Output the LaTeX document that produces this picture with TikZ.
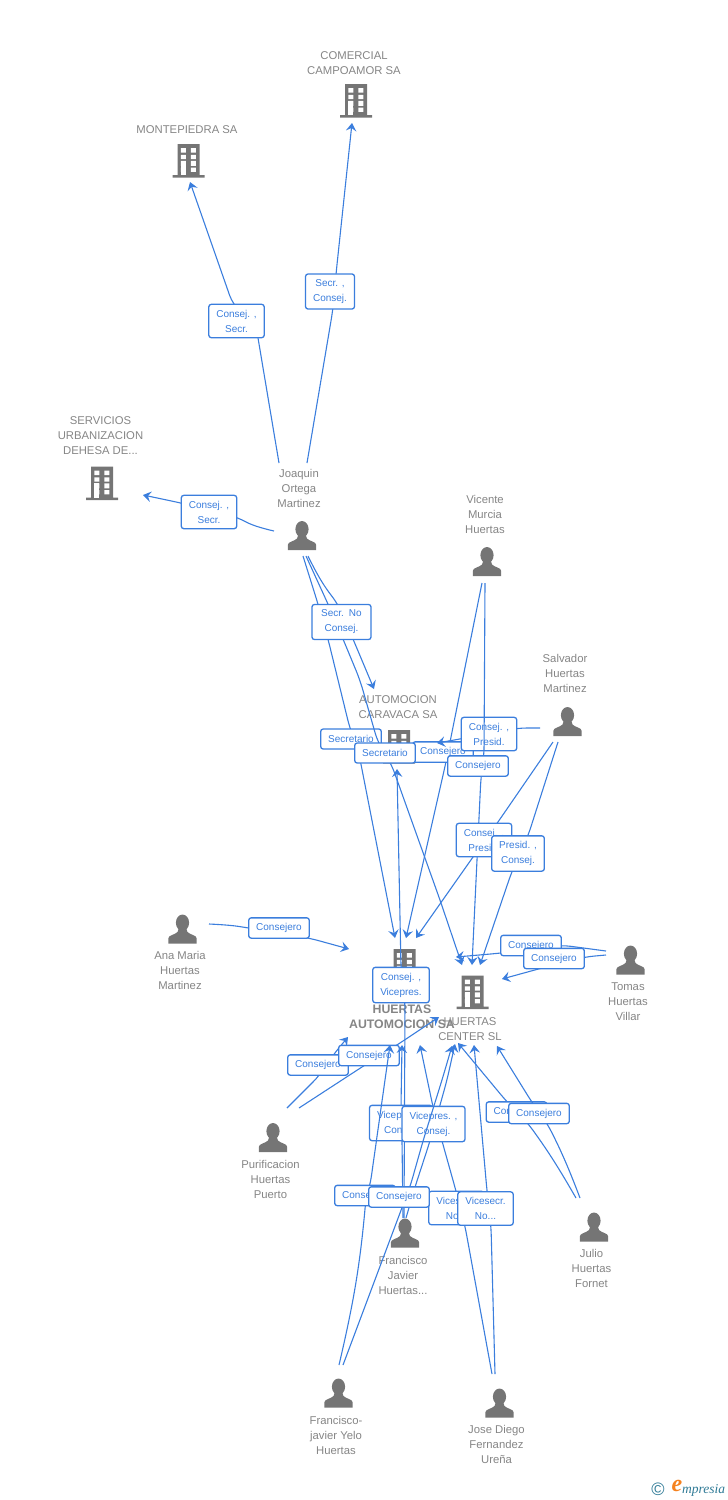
\documentclass[tikz,border=0pt]{standalone}
\usepackage{fontspec}
\setmainfont{Liberation Sans}
\newfontfamily\logofont{Liberation Serif}
\usetikzlibrary{arrows.meta}
\definecolor{linkblue}{HTML}{3B7EDD}
\definecolor{icongrey}{HTML}{757575}
\definecolor{labelgrey}{HTML}{858585}
\definecolor{mainorange}{HTML}{FF5B2E}
\definecolor{logoteal}{HTML}{2F7A96}
\definecolor{logoorange}{HTML}{F5821F}
\tikzset{
  rel/.style={draw=linkblue,line width=1.1pt,rounded corners=10pt,-{Stealth[length=8pt,width=10.5pt,inset=3pt]}},
  role/.style={draw=linkblue,line width=1.3pt,fill=white,rounded corners=2.5pt,text=linkblue,align=center,
    font=\fontsize{10}{15}\selectfont,inner xsep=7.5pt,inner ysep=5.5pt,minimum height=20pt},
  who/.style={text=labelgrey,align=center,font=\fontsize{11.3}{15}\selectfont,inner sep=0pt},
  mainwho/.style={who,font=\fontsize{12.3}{15}\selectfont\bfseries},
  building/.pic={
    \fill[pic actions] (-11,-16.5) rectangle (11,15) (-16,14.7) rectangle (16,17.2);
    \foreach \wy/\hy in {-12.3/4.3,-5.7/4.4,0.3/5,7/4.3}{
      \fill[white] (-7.7,\wy) rectangle ++(5,\hy) (2.3,\wy) rectangle ++(5,\hy);}
    \fill[white] (-7.7,0.3) rectangle ++(5,14.4);
  },
  person/.pic={
    \fill[pic actions] (0,-6.3) ellipse (6.6 and 8.2);
    \fill[pic actions] (-14.2,14.5) -- (-14.2,9.5) .. controls (-14,6) and (-8,6) .. (-5,3) -- (-4,0) -- (4,0) -- (5,3)
      .. controls (8,6) and (14,6) .. (14.2,9.5) -- (14.2,14.5) -- cycle;
  },
  every pic/.style={fill=icongrey}
}
\begin{document}
\begin{tikzpicture}[x=1pt,y=-1pt]
\useasboundingbox (0,0) rectangle (728,1500);
\pic at (356,100.5) {building};
\pic at (188.5,160.5) {building};
\pic at (102,483) {building};
\pic at (399,746.5) {building};
\pic[fill=mainorange] at (404.5,965.5) {building};
\pic at (472.5,992) {building};
\pic at (302,535.5) {person};
\pic at (487,561.5) {person};
\pic at (567.5,721.5) {person};
\pic at (182.5,929) {person};
\pic at (630.5,960) {person};
\pic at (273,1137.5) {person};
\pic at (405,1233) {person};
\pic at (594,1227) {person};
\pic at (338.5,1393) {person};
\pic at (499.5,1403) {person};
\node[who] (comercial) at (354,63) {COMERCIAL\\CAMPOAMOR SA};
\node[who] (montepiedra) at (187,129.5) {MONTEPIEDRA SA};
\node[who] (servicios) at (100.5,436) {SERVICIOS\\URBANIZACION\\DEHESA DE...};
\node[who] (caravaca) at (398,707.5) {AUTOMOCION\\CARAVACA SA};
\node[mainwho] (automocion) at (402,1016.5) {HUERTAS\\AUTOMOCION SA};
\node[who] (center) at (470,1029.5) {HUERTAS\\CENTER SL};
\node[who] (joaquin) at (299,488) {Joaquin\\Ortega\\Martinez};
\node[who] (vicente) at (485,514) {Vicente\\Murcia\\Huertas};
\node[who] (salvador) at (565,673.5) {Salvador\\Huertas\\Martinez};
\node[who] (ana) at (180,970.5) {Ana Maria\\Huertas\\Martinez};
\node[who] (tomas) at (628,1001.5) {Tomas\\Huertas\\Villar};
\node[who] (purificacion) at (270.5,1179.5) {Purificacion\\Huertas\\Puerto};
\node[who] (javier) at (403,1275) {Francisco\\Javier\\Huertas...};
\node[who] (julio) at (591.5,1268.5) {Julio\\Huertas\\Fornet};
\node[who] (yelo) at (336,1435) {Francisco-\\javier Yelo\\Huertas};
\node[who] (jose) at (496.5,1444.5) {Jose Diego\\Fernandez\\Ureña};
\node[inner sep=0pt,text=logoteal,font=\fontsize{18}{18}\selectfont] (logoc) at (658,1489) {©};
\node[inner sep=0pt,text=logoorange,font=\logofont\itshape\bfseries\fontsize{24}{24}\selectfont] (logoe) at (677,1486) {e};
\node[inner sep=0pt,text=logoteal,font=\logofont\itshape\fontsize{13.5}{13.5}\selectfont,anchor=west] (logot) at (682,1490) {mpresia};
\coordinate (joaqA) at (279,463);
\coordinate (joaqB) at (307,463);
\coordinate (joaqC) at (274,531);
\coordinate (joaqD) at (303,556);
\coordinate (joaqE) at (306,556);
\coordinate (joaqF) at (308,556);
\coordinate (vicA) at (482,583);
\coordinate (vicB) at (485,583);
\coordinate (salA) at (540,728);
\coordinate (salB) at (553,742);
\coordinate (salC) at (558,742);
\coordinate (anaA) at (209,924);
\coordinate (tomA) at (606,951);
\coordinate (tomB) at (606,955);
\coordinate (purA) at (287,1108);
\coordinate (purB) at (299,1108);
\coordinate (javA) at (403,1218);
\coordinate (javB) at (406,1218);
\coordinate (javC) at (404,1218);
\coordinate (julA) at (576,1198);
\coordinate (julB) at (580,1198);
\coordinate (yelA) at (339,1365);
\coordinate (yelB) at (343,1365);
\coordinate (josA) at (492,1374);
\coordinate (josB) at (495,1374);
\coordinate (tipComercial) at (352,123);
\coordinate (tipMonte) at (190,182);
\coordinate (tipServicios) at (143,495);
\coordinate (tipCaravacaA) at (374,689);
\coordinate (tipCaravacaB) at (437,743);
\coordinate (tipCaravacaC) at (397,769);
\coordinate (tipAutoA) at (395,938);
\coordinate (tipAutoB) at (406,938);
\coordinate (tipAutoC) at (416,938);
\coordinate (tipAutoD) at (349,949);
\coordinate (tipAutoE) at (348,1037);
\coordinate (tipAutoF) at (390,1045);
\coordinate (tipAutoG) at (402,1045);
\coordinate (tipAutoH) at (420,1045);
\coordinate (tipCenterA) at (462,965);
\coordinate (tipCenterB) at (472,965);
\coordinate (tipCenterC) at (480,965);
\coordinate (tipCenterD) at (456,957);
\coordinate (tipCenterE) at (502,979);
\coordinate (tipCenterF) at (439,1017);
\coordinate (tipCenterG) at (452,1046);
\coordinate (tipCenterH) at (455,1044);
\coordinate (tipCenterI) at (458,1043);
\coordinate (tipCenterJ) at (474,1045);
\coordinate (tipCenterK) at (497,1046);
\draw[rel] (joaqA) -- (256,326) -- (233,305) -- (tipMonte);
\node[role] (consejMonte) at (236.5,321) {Consej. ,\\Secr.};
\draw[rel] (joaqB) -- (333,309) -- (336,274) -- (tipComercial);
\node[role] (secrComercial) at (330,291.5) {Secr. ,\\Consej.};
\draw[rel] (joaqC) to[bend left=8] (237,517) -- (181,503) -- (tipServicios);
\node[role] (consejServicios) at (209,512) {Consej. ,\\Secr.};
\draw[rel] (joaqD) -- (318,604) -- (328,639) -- (350,729) -- (358,749) -- (tipAutoA);
\node[role] (secrAuto) at (351,739) {Secretario};
\draw[rel] (vicA) -- (450,742) -- (446,762) -- (tipAutoB);
\node[role] (consejeroAuto) at (443,752) {Consejero};
\draw[rel] (salA) -- (517,728) -- (460,739) -- (tipCaravacaB);
\node[role] (consejCaravaca) at (489,734) {Consej. ,\\Presid.};
\draw[rel] (vicB) -- (484,756) -- (481,776) -- (tipCenterB);
\node[role] (consejeroCenter) at (478,766) {Consejero};
\draw[rel] (joaqE) -- (328,604) -- (343,639) -- (360,680) -- (378,743) -- (391,763) -- (440,900) -- (tipCenterA);
\node[role] (secrCenter) at (385,753) {Secretario};
\draw[rel] (joaqF) to[bend right=6] (338,604) -- (353,639) -- (tipCaravacaA);
\node[role,minimum width=59pt] (secrCaravaca) at (341.5,622) {Secr.\enspace No\\Consej.};
\draw[rel] (salB) -- (498,822) -- (473,857) -- (tipAutoC);
\node[role] (consejAuto) at (484,840) {Consej. ,\\Presid.};
\draw[rel] (salC) -- (528,836) -- (512,871) -- (tipCenterC);
\node[role] (presidCenter) at (518,853.5) {Presid. ,\\Consej.};
\draw[rel] (anaA) to[bend left=3] (249,928) -- (309,938) -- (tipAutoD);
\node[role] (consejeroAna) at (279,928) {Consejero};
\draw[rel] (tomA) -- (561,945) -- (502,953) -- (tipCenterD);
\node[role] (consejeroTomA) at (531,945.5) {Consejero};
\draw[rel] (tomB) -- (584,957) -- (542,968) -- (tipCenterE);
\node[role] (consejeroTomB) at (554,958.5) {Consejero};
\draw[rel] (javC) -- (405,1002) -- (401,968) -- (tipCaravacaC);
\node[role] (consejVice) at (401,985) {Consej. ,\\Vicepres.};
\draw[rel] (purA) -- (320,1075) -- (333,1055) -- (tipAutoE);
\node[role] (consejeroPurA) at (318,1065) {Consejero};
\draw[rel] (purB) -- (365,1065) -- (397,1045) -- (tipCenterF);
\node[role] (consejeroPurB) at (369,1055.5) {Consejero};
\draw[rel] (julA) to[bend right=3] (527,1122) -- (507,1102) -- (tipCenterI);
\node[role] (consejeroJulA) at (516.5,1112) {Consejero};
\draw[rel] (julB) to[bend right=3] (547,1123) -- (533,1104) -- (tipCenterK);
\node[role] (consejeroJulB) at (539,1113.5) {Consejero};
\draw[rel] (josA) -- (465,1226) -- (456,1191) -- (442,1141) -- (433,1107) -- (tipAutoH);
\node[role] (viceAuto) at (456.5,1208) {Vicesecr.\\No...};
\draw[rel] (josB) -- (491,1226) -- (487,1191) -- (tipCenterJ);
\node[role] (viceCenter) at (485.5,1208.5) {Vicesecr.\\No...};
\draw[rel] (javA) -- (402,1140) -- (401,1106) -- (tipAutoG);
\node[role] (vicepAuto) at (401,1123) {Vicepres. ,\\Consej.};
\draw[rel] (javB) -- (415,1187) -- (430,1141) -- (447,1080) -- (tipCenterH);
\node[role] (vicepCenter) at (433.5,1124) {Vicepres. ,\\Consej.};
\draw[rel] (yelA) to[bend right=4] (366,1198) -- (370,1186) -- (385,1080) -- (tipAutoF);
\node[role] (consejeroYelA) at (365,1195.5) {Consejero};
\draw[rel] (yelB) -- (403,1205) -- (410,1187) -- (423,1141) -- (442,1080) -- (tipCenterG);
\node[role] (consejeroYelB) at (399,1197) {Consejero};
\end{tikzpicture}
\end{document}
